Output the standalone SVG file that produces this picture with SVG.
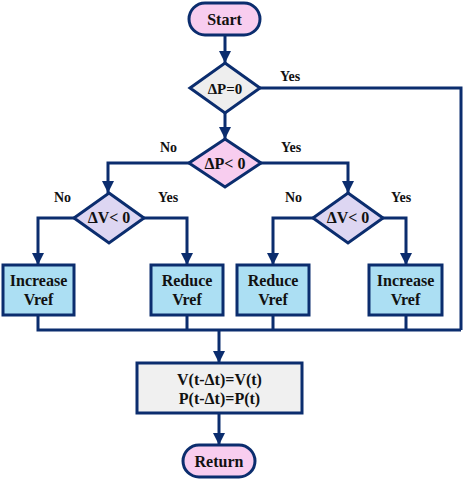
<svg xmlns="http://www.w3.org/2000/svg" width="465" height="480" viewBox="0 0 465 480">
<defs>
<marker id="arr" markerUnits="userSpaceOnUse" markerWidth="12" markerHeight="12" viewBox="0 0 12 12" refX="12" refY="6" orient="auto">
<path d="M0,0 L12,6 L0,12 Z" fill="#0b2d6e"/>
</marker>
<style>
.s{stroke:#0b2d6e;stroke-width:3}
.ln{fill:none;stroke:#0b2d6e;stroke-width:3}
text{font-family:'Liberation Serif','Times New Roman',Times,serif;font-weight:bold;fill:#111}
.t{font-size:16px;text-anchor:middle}
.l{font-size:14px}
.pink{fill:#f8cdef}
.gray{fill:#eeeeee}
.lav{fill:#ddd6f2}
.blue{fill:#acdff3}
</style>
</defs>
<g id="connectors">
<path class="ln" d="M225,35 V63" marker-end="url(#arr)"/>
<path class="ln" d="M225,113 V139" marker-end="url(#arr)"/>
<path class="ln" d="M260,88 H461 V330"/>
<path class="ln" d="M189,163 H108 V193" marker-end="url(#arr)"/>
<path class="ln" d="M261,163 H348 V193" marker-end="url(#arr)"/>
<path class="ln" d="M74,218 H38 V265" marker-end="url(#arr)"/>
<path class="ln" d="M144,218 H187 V265" marker-end="url(#arr)"/>
<path class="ln" d="M313,218 H273 V265" marker-end="url(#arr)"/>
<path class="ln" d="M383,218 H406 V265" marker-end="url(#arr)"/>
<path class="ln" d="M38,315 V330 H461 M187,315 V330 M273,315 V330 M406,315 V330"/>
<path class="ln" d="M219,330 V363" marker-end="url(#arr)"/>
<path class="ln" d="M219,413 V445" marker-end="url(#arr)"/>
<text class="l" x="280" y="81">Yes</text>
<text class="l" x="160" y="152">No</text>
<text class="l" x="281" y="152">Yes</text>
<text class="l" x="54" y="202">No</text>
<text class="l" x="158" y="202">Yes</text>
<text class="l" x="285" y="202">No</text>
<text class="l" x="391" y="202">Yes</text>
</g>
<g id="start">
<rect class="s pink" x="189" y="3" width="71" height="32" rx="16"/>
<text class="t" x="224.5" y="25">Start</text>
</g>
<g id="dp0">
<polygon class="s gray" points="225,63 260,88 225,113 190,88"/>
<text class="t" x="225" y="94" style="font-size:15px">ΔP=0</text>
</g>
<g id="dplt0">
<polygon class="s pink" points="225,139 261,163 225,187 189,163"/>
<text class="t" x="225" y="169">ΔP&lt; 0</text>
</g>
<g id="dvlt0-left">
<polygon class="s lav" points="109,193 144,218 109,243 74,218"/>
<text class="t" x="109" y="223">ΔV&lt; 0</text>
</g>
<g id="dvlt0-right">
<polygon class="s lav" points="348,193 383,218 348,243 313,218"/>
<text class="t" x="348" y="223">ΔV&lt; 0</text>
</g>
<g id="inc-left">
<rect class="s blue" x="3" y="265" width="71" height="50"/>
<text class="t" x="38.5" y="286">Increase</text>
<text class="t" x="38.5" y="305">Vref</text>
</g>
<g id="red-left">
<rect class="s blue" x="151" y="265" width="72" height="50"/>
<text class="t" x="187" y="286">Reduce</text>
<text class="t" x="187" y="305">Vref</text>
</g>
<g id="red-right">
<rect class="s blue" x="237" y="265" width="72" height="50"/>
<text class="t" x="273" y="286">Reduce</text>
<text class="t" x="273" y="305">Vref</text>
</g>
<g id="inc-right">
<rect class="s blue" x="369" y="265" width="73" height="50"/>
<text class="t" x="405.5" y="286">Increase</text>
<text class="t" x="405.5" y="305">Vref</text>
</g>
<g id="update">
<rect class="s" x="137" y="363" width="165" height="50" fill="#f0f0f0"/>
<text class="t" x="219.5" y="385">V(t-Δt)=V(t)</text>
<text class="t" x="219.5" y="404">P(t-Δt)=P(t)</text>
</g>
<g id="return">
<rect class="s pink" x="183" y="445" width="72" height="32" rx="16"/>
<text class="t" x="219" y="467">Return</text>
</g>
</svg>
